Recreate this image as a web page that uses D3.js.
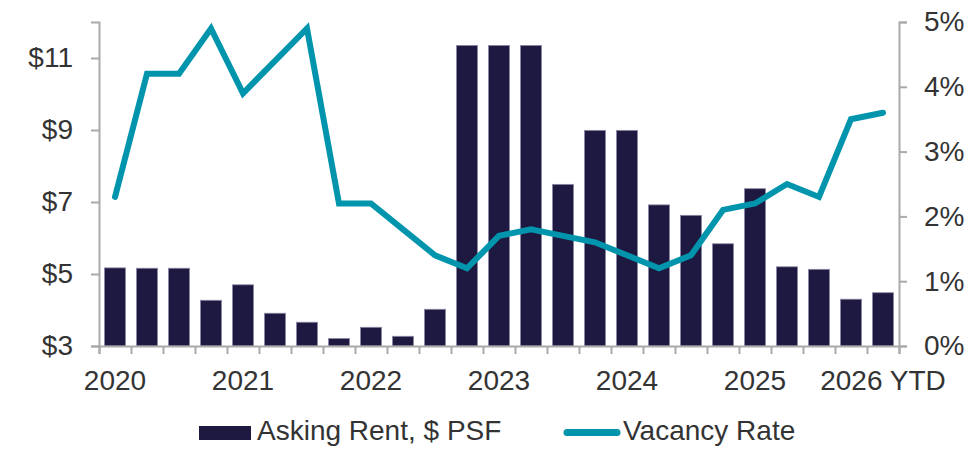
<!DOCTYPE html>
<html>
<head>
<meta charset="utf-8">
<script src="https://cdn.jsdelivr.net/npm/d3@7"></script>
<style>
  body { margin: 0; background: #fff; }
  text { font-family: "Liberation Sans", Arial, sans-serif; fill: #333; }
</style>
</head>
<body>
<div id="container"></div>
<script>
let w = 967;
let h = 449;
let margin = {top: 22, right: 68, bottom: 103, left: 99};

// quarters 2020 Q1 .. 2026 Q1
let quarters = [
  "2020 Q1","2020 Q2","2020 Q3","2020 Q4",
  "2021 Q1","2021 Q2","2021 Q3","2021 Q4",
  "2022 Q1","2022 Q2","2022 Q3","2022 Q4",
  "2023 Q1","2023 Q2","2023 Q3","2023 Q4",
  "2024 Q1","2024 Q2","2024 Q3","2024 Q4",
  "2025 Q1","2025 Q2","2025 Q3","2025 Q4",
  "2026 Q1"
];
let xLabels = {
  "2020 Q1": "2020", "2021 Q1": "2021", "2022 Q1": "2022", "2023 Q1": "2023",
  "2024 Q1": "2024", "2025 Q1": "2025", "2026 Q1": "2026 YTD"
};
let askingRent = [
  5.17, 5.16, 5.16, 4.27, 4.70, 3.91, 3.66, 3.21, 3.52, 3.27, 4.02, 11.35, 11.35,
  11.35, 7.49, 8.99, 8.99, 6.92, 6.63, 5.84, 7.37, 5.20, 5.13, 4.30, 4.48
];
let vacancyRate = [
  2.3, 4.2, 4.2, 4.9, 3.9, 4.4, 4.9, 2.2, 2.2, 1.8, 1.4, 1.2, 1.7,
  1.8, 1.7, 1.6, 1.4, 1.2, 1.4, 2.1, 2.2, 2.5, 2.3, 3.5, 3.6
];
let rentTicks = [3, 5, 7, 9, 11];
let vacancyTicks = [0, 1, 2, 3, 4, 5];

let barColor = "#1e1940";
let lineColor = "#0095ad";
let axisColor = "#aaaaaa";

let viz = d3.select("#container").append("svg")
    .attr("width", w)
    .attr("height", h)
;

let x = d3.scaleBand()
    .domain(quarters)
    .range([margin.left, w - margin.right])
    .paddingInner(0.34)
    .paddingOuter(0.17)
;
let xEdges = d3.scaleLinear()
    .domain([0, quarters.length])
    .range([margin.left, w - margin.right])
;
let yL = d3.scaleLinear().domain([3, 12]).range([h - margin.bottom, margin.top]);
let yR = d3.scaleLinear().domain([0, 5]).range([h - margin.bottom, margin.top]);

// bars
viz.selectAll(".bar").data(askingRent).enter()
    .append("rect")
    .attr("class", "bar")
    .attr("x", (d, i) => x(quarters[i]))
    .attr("y", d => yL(d))
    .attr("width", x.bandwidth())
    .attr("height", d => yL(3) - yL(d))
    .attr("fill", barColor)
    .attr("stroke", "#8e89a6")
    .attr("stroke-width", 0.8)
;

// left axis
let leftAxis = viz.append("g")
    .attr("transform", `translate(${margin.left},0)`)
    .call(d3.axisLeft(yL).tickValues(rentTicks).tickFormat(d => "$" + d).tickSize(8).tickPadding(18));

// right axis
let rightAxis = viz.append("g")
    .attr("transform", `translate(${w - margin.right},0)`)
    .call(d3.axisRight(yR).tickValues(vacancyTicks).tickFormat(d => d + "%").tickSize(8).tickPadding(17));

// bottom axis: tick marks on quarter edges, labels under Q1 bars
let bottomTicks = viz.append("g")
    .attr("transform", `translate(0,${h - margin.bottom})`)
    .call(d3.axisBottom(xEdges).tickValues(d3.range(quarters.length + 1)).tickFormat("").tickSize(8));

let bottomLabels = viz.append("g")
    .attr("transform", `translate(0,${h - margin.bottom})`)
    .call(d3.axisBottom(x).tickSize(0).tickPadding(24).tickFormat(d => xLabels[d] || ""));
bottomLabels.select(".domain").remove();

[leftAxis, rightAxis, bottomTicks, bottomLabels].forEach(g => {
  g.selectAll(".domain").attr("stroke", axisColor).attr("stroke-width", 2);
  g.selectAll(".tick line").attr("stroke", axisColor).attr("stroke-width", 2);
  g.selectAll("text")
    .attr("font-family", "'Liberation Sans', Arial, sans-serif")
    .attr("font-size", 28)
    .attr("fill", "#333");
});

// vacancy line
let lineMaker = d3.line()
    .x((d, i) => x(quarters[i]) + x.bandwidth() / 2)
    .y(d => yR(d));

viz.append("path")
    .datum(vacancyRate)
    .attr("d", lineMaker)
    .attr("fill", "none")
    .attr("stroke", lineColor)
    .attr("stroke-width", 6)
    .attr("stroke-linecap", "round")
    .attr("stroke-linejoin", "miter")
;

// legend
let legend = viz.append("g").attr("class", "legend");
legend.append("rect")
    .attr("x", 199).attr("y", 426)
    .attr("width", 52).attr("height", 14)
    .attr("fill", barColor);
legend.append("text")
    .text("Asking Rent, $ PSF")
    .attr("x", 257).attr("y", 440)
    .attr("font-size", 28);
legend.append("line")
    .attr("x1", 567).attr("x2", 617)
    .attr("y1", 432.5).attr("y2", 432.5)
    .attr("stroke", lineColor)
    .attr("stroke-width", 7)
    .attr("stroke-linecap", "round");
legend.append("text")
    .text("Vacancy Rate")
    .attr("x", 623).attr("y", 440)
    .attr("font-size", 28);
</script>
</body>
</html>
